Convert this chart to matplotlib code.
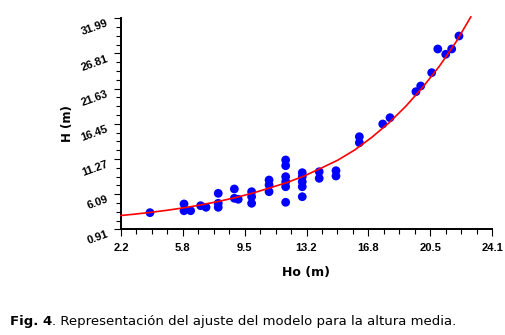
import numpy as np
import matplotlib.pyplot as plt
from matplotlib.ticker import FixedLocator, AutoMinorLocator

# observed dominant height (Ho) vs mean height (H), metres
ho = [3.91, 5.92, 5.92, 6.31, 6.90, 7.22, 7.94, 7.94, 7.94,
      8.89, 8.89, 9.12, 9.91, 9.91, 9.91, 10.94, 10.94, 10.94,
      11.92, 11.92, 11.92, 11.92, 11.92, 11.92,
      12.90, 12.90, 12.90, 12.90, 12.90, 13.90, 13.90, 14.89, 14.89,
      16.27, 16.27, 17.65, 18.08, 19.61, 19.89, 20.54, 20.90, 21.37,
      21.72, 22.15]
h = [3.36, 4.64, 3.65, 3.65, 4.39, 4.15, 6.21, 4.74, 4.15,
     6.85, 5.48, 5.33, 6.45, 5.71, 4.74, 8.17, 7.44, 6.45,
     11.12, 10.28, 8.66, 7.92, 7.18, 4.89,
     9.25, 8.66, 7.92, 7.18, 5.71, 9.39, 8.42, 9.54, 8.76,
     14.55, 13.67, 16.42, 17.35, 21.18, 22.02, 23.98, 27.47, 26.69,
     27.47, 29.38]

# fitted model curve
fit_x = [2.2, 3.0, 4.0, 5.0, 6.0, 7.0, 8.0, 9.0, 10.0, 11.0, 12.0,
         13.0, 14.0, 15.0, 16.0, 17.0, 18.0, 19.0, 20.0, 21.0, 22.0, 22.85]
fit_y = [2.94, 3.14, 3.42, 3.74, 4.11, 4.54, 5.04, 5.61, 6.26, 7.02, 7.80,
         8.75, 9.90, 11.10, 12.60, 14.45, 16.55, 19.00, 21.80, 24.95, 28.60,
         32.20]

x_ticks = np.linspace(2.2, 24.1, 7)
x_labels = ["2.2", "5.8", "9.5", "13.2", "16.8", "20.5", "24.1"]
y_ticks = [0.91, 6.09, 11.27, 16.45, 21.63, 26.81, 31.99]
y_labels = ["0.91", "6.09", "11.27", "16.45", "21.63", "26.81", "31.99"]

fig = plt.figure(figsize=(5.05, 3.35), dpi=100)
ax = fig.add_axes([121 / 505, 1 - 229.3 / 335, 371 / 505, 211 / 335])

ax.scatter(ho, h, s=40, color="#0000ff", edgecolors="none", zorder=3)
ax.plot(fit_x, fit_y, color="#ff0000", lw=1.2, zorder=4, clip_on=False)

ax.set_xlim(2.2, 24.1)
ax.set_ylim(0.91, 31.99)
for side in ("top", "right"):
    ax.spines[side].set_visible(False)
for side in ("left", "bottom"):
    ax.spines[side].set_linewidth(1.4)

ax.xaxis.set_major_locator(FixedLocator(x_ticks))
ax.yaxis.set_major_locator(FixedLocator(y_ticks))
ax.xaxis.set_minor_locator(AutoMinorLocator(4))
ax.yaxis.set_minor_locator(AutoMinorLocator(4))
ax.tick_params(which="major", direction="out", length=5, width=0.8)
ax.tick_params(which="minor", direction="out", length=3.5, width=0.8)

ax.set_xticklabels(x_labels, fontsize=8, fontweight="bold",
                   family="Liberation Sans")
ax.tick_params(axis="x", pad=5)
ax.set_yticklabels(y_labels, fontsize=8, fontweight="bold",
                   family="Liberation Sans", rotation=20,
                   ha="right", va="top", rotation_mode="anchor")
ax.tick_params(axis="y", pad=6)

ax.set_xlabel("Ho (m)", fontsize=9, fontweight="bold", labelpad=9)
ax.set_ylabel("H (m)", fontsize=8.5, fontweight="bold", labelpad=4)

# caption: bold figure number followed by regular text
fig.canvas.draw()
renderer = fig.canvas.get_renderer()
cap_y = 1 - 322 / 335
t1 = fig.text(10 / 505, cap_y, "Fig. 4", fontsize=9.5, fontweight="bold",
              va="center", ha="left")
bb = t1.get_window_extent(renderer)
fig.text(bb.x1 / fig.bbox.width, cap_y,
         ". Representación del ajuste del modelo para la altura media.",
         fontsize=9.5, va="center", ha="left")

fig.savefig("out.png", dpi=100)
